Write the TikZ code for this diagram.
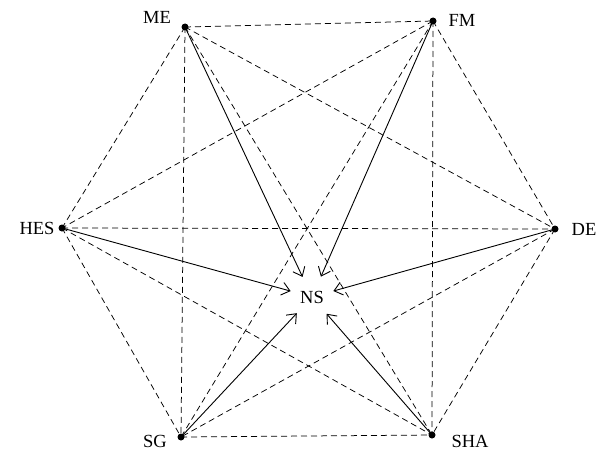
\documentclass[tikz,border=0pt]{standalone}
\usepackage{fontspec}
\setmainfont{Liberation Serif}
\usetikzlibrary{arrows.meta}
\begin{document}
\begin{tikzpicture}[x=1pt,y=-1pt,
  dotnode/.style={circle,fill=black,minimum size=7pt,inner sep=0pt},
  lbl/.style={font=\fontsize{18.5}{20}\selectfont,inner sep=0pt},
  dashedge/.style={dashed,dash pattern=on 6pt off 4pt,line width=0.75pt},
  arr/.style={line width=0.9pt,-{Straight Barb[length=8pt,width=13pt,line width=0.9pt]}}]
\useasboundingbox (0,0) rectangle (605,452);
\node[dotnode] (ME) at (185,27) {};
\node[dotnode] (FM) at (433,21) {};
\node[dotnode] (HES) at (62,228) {};
\node[dotnode] (DE) at (555,229) {};
\node[dotnode] (SG) at (181,437) {};
\node[dotnode] (SHA) at (432,435) {};
\node[circle,minimum size=44pt,inner sep=0pt,font=\fontsize{18.5}{20}\selectfont] (NS) at (312,297) {NS};
\node[lbl] (lME) at (157,17) {ME};
\node[lbl] (lFM) at (462,20) {FM};
\node[lbl] (lHES) at (37,228) {HES};
\node[lbl] (lDE) at (584,229) {DE};
\node[lbl] (lSG) at (155,441) {SG};
\node[lbl] (lSHA) at (470,441) {SHA};
\foreach \a/\b in {ME/FM,ME/HES,ME/DE,ME/SG,ME/SHA,FM/HES,FM/DE,FM/SG,FM/SHA,HES/DE,HES/SG,HES/SHA,DE/SG,DE/SHA,SG/SHA}
  \draw[dashedge] (\a.center) -- (\b.center);
\foreach \a in {ME,FM,HES,DE,SG,SHA}
  \draw[arr] (\a.center) -- (NS);
\end{tikzpicture}
\end{document}
